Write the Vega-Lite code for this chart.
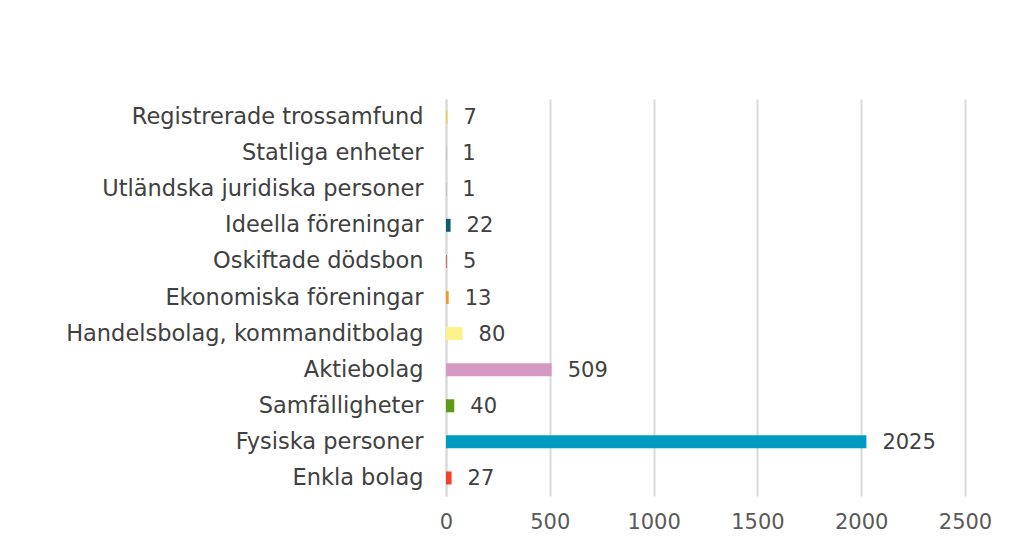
{
  "$schema": "https://vega.github.io/schema/vega-lite/v6.json",
  "width": 519,
  "height": 397,
  "autosize": {"type": "none"},
  "padding": {"left": 446, "top": 99, "right": 44, "bottom": 44},
  "background": "white",
  "config": {"view": {"stroke": null}, "font": "DejaVu Sans"},
  "data": {"values": [
    {"kategori": "Registrerade trossamfund", "antal": 7, "farg": "#e9d24a"},
    {"kategori": "Statliga enheter", "antal": 1, "farg": "#7f7f7f"},
    {"kategori": "Utländska juridiska personer", "antal": 1, "farg": "#7f7f7f"},
    {"kategori": "Ideella föreningar", "antal": 22, "farg": "#0d5c70"},
    {"kategori": "Oskiftade dödsbon", "antal": 5, "farg": "#c8735e"},
    {"kategori": "Ekonomiska föreningar", "antal": 13, "farg": "#ee9a2c"},
    {"kategori": "Handelsbolag, kommanditbolag", "antal": 80, "farg": "#fff28a"},
    {"kategori": "Aktiebolag", "antal": 509, "farg": "#d498c2"},
    {"kategori": "Samfälligheter", "antal": 40, "farg": "#5e9917"},
    {"kategori": "Fysiska personer", "antal": 2025, "farg": "#009bc0"},
    {"kategori": "Enkla bolag", "antal": 27, "farg": "#f0432a"}
  ]},
  "encoding": {
    "y": {
      "field": "kategori", "type": "nominal", "sort": null,
      "scale": {"paddingInner": 0.64, "paddingOuter": 0.32},
      "axis": {"title": null, "ticks": false, "domain": true, "domainColor": "#d9d9d9", "domainWidth": 2,
        "labelFontSize": 22.5, "labelColor": "#404040", "labelPadding": 23, "labelLimit": 440}
    }
  },
  "layer": [
    {
      "mark": {"type": "bar"},
      "encoding": {
        "x": {"field": "antal", "type": "quantitative",
          "scale": {"domain": [0, 2500], "nice": false},
          "axis": {"title": null, "values": [0, 500, 1000, 1500, 2000, 2500], "format": "d", "ticks": false, "domain": false,
            "labelFlush": false, "labelOverlap": false, "labelBound": false,
            "grid": true, "gridColor": "#d9d9d9", "gridWidth": 2,
            "labelFontSize": 21, "labelColor": "#595959", "labelPadding": 15}},
        "color": {"field": "farg", "type": "nominal", "scale": null}
      }
    },
    {
      "mark": {"type": "text", "align": "left", "baseline": "middle", "dx": 16, "dy": 1, "fontSize": 21, "color": "#404040"},
      "encoding": {
        "x": {"field": "antal", "type": "quantitative"},
        "text": {"field": "antal", "type": "quantitative"}
      }
    }
  ]
}
